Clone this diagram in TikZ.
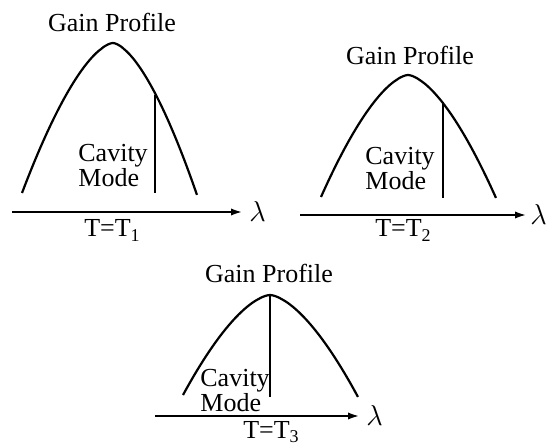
\documentclass[tikz,border=0pt]{standalone}
\usepackage{fontspec}
\setmainfont{Liberation Serif}
\usepackage{tikz}
\usetikzlibrary{arrows.meta}
\tikzset{
  gaincurve/.style={line width=1.1pt},
  modeline/.style={line width=1.1pt},
  waveaxis/.style={line width=1.2pt,-{Latex[length=6pt,width=3.6pt]}},
  gaintitle/.style={font=\fontsize{13}{14}\selectfont,anchor=base,inner sep=0pt},
  modelabel/.style={font=\fontsize{13}{12.5}\selectfont,align=left,anchor=base west,inner sep=0pt},
  templabel/.style={font=\fontsize{13}{14}\selectfont,anchor=base,inner sep=0pt},
  lamlabel/.style={font=\fontsize{14}{14}\selectfont,anchor=west,inner sep=0pt},
}
\newcommand{\tsub}[1]{\raisebox{-0.35ex}{\fontsize{9}{9}\selectfont #1}}

\begin{document}
\begin{tikzpicture}[x=0.5pt,y=-0.5pt]
\useasboundingbox (0,0) rectangle (546,448);

% T = T1
\draw[gaincurve] plot[domain=1:0.001,samples=40] ({113-91*\x},{43+150*\x^1.6})
  -- plot[domain=0.001:1,samples=40] ({113+84*\x},{43+152*\x^1.6});
\coordinate (m1top) at (155,95);
\coordinate (m1bot) at (155,193);
\draw[modeline] (m1top) -- (m1bot);
\coordinate (a1l) at (12,212);
\coordinate (a1r) at (243,212);
\draw[waveaxis] (a1l) -- (a1r);
\node[gaintitle] (g1) at (112,32) {Gain Profile};
\node[modelabel] (c1) at (78,187) {Cavity\\Mode};
\node[templabel] (t1) at (112,237) {T=T\tsub{1}};
\node[lamlabel] (l1) at ([xshift=3pt]a1r) {$\lambda$};

% T = T2
\draw[gaincurve] plot[domain=1:0.001,samples=40] ({408-87*\x},{75+122*\x^1.6})
  -- plot[domain=0.001:1,samples=40] ({408+88*\x},{75+123*\x^1.6});
\coordinate (m2top) at (443,102);
\coordinate (m2bot) at (443,198);
\draw[modeline] (m2top) -- (m2bot);
\coordinate (a2l) at (300,215);
\coordinate (a2r) at (527,215);
\draw[waveaxis] (a2l) -- (a2r);
\node[gaintitle] (g2) at (410,65) {Gain Profile};
\node[modelabel] (c2) at (365,190) {Cavity\\Mode};
\node[templabel] (t2) at (403,237) {T=T\tsub{2}};
\node[lamlabel] (l2) at ([xshift=1.5pt]a2r) {$\lambda$};

% T = T3
\draw[gaincurve] plot[domain=1:0.001,samples=40] ({270-87*\x},{295+100*\x^1.6})
  -- plot[domain=0.001:1,samples=40] ({270+88*\x},{295+102*\x^1.6});
\coordinate (m3top) at (270,295);
\coordinate (m3bot) at (270,397);
\draw[modeline] (m3top) -- (m3bot);
\coordinate (a3l) at (155,416);
\coordinate (a3r) at (360,416);
\draw[waveaxis] (a3l) -- (a3r);
\node[gaintitle] (g3) at (269,283) {Gain Profile};
\node[modelabel] (c3) at (200,412) {Cavity\\Mode};
\node[templabel] (t3) at (271,438) {T=T\tsub{3}};
\node[lamlabel] (l3) at ([xshift=3pt]a3r) {$\lambda$};
\end{tikzpicture}
\end{document}
